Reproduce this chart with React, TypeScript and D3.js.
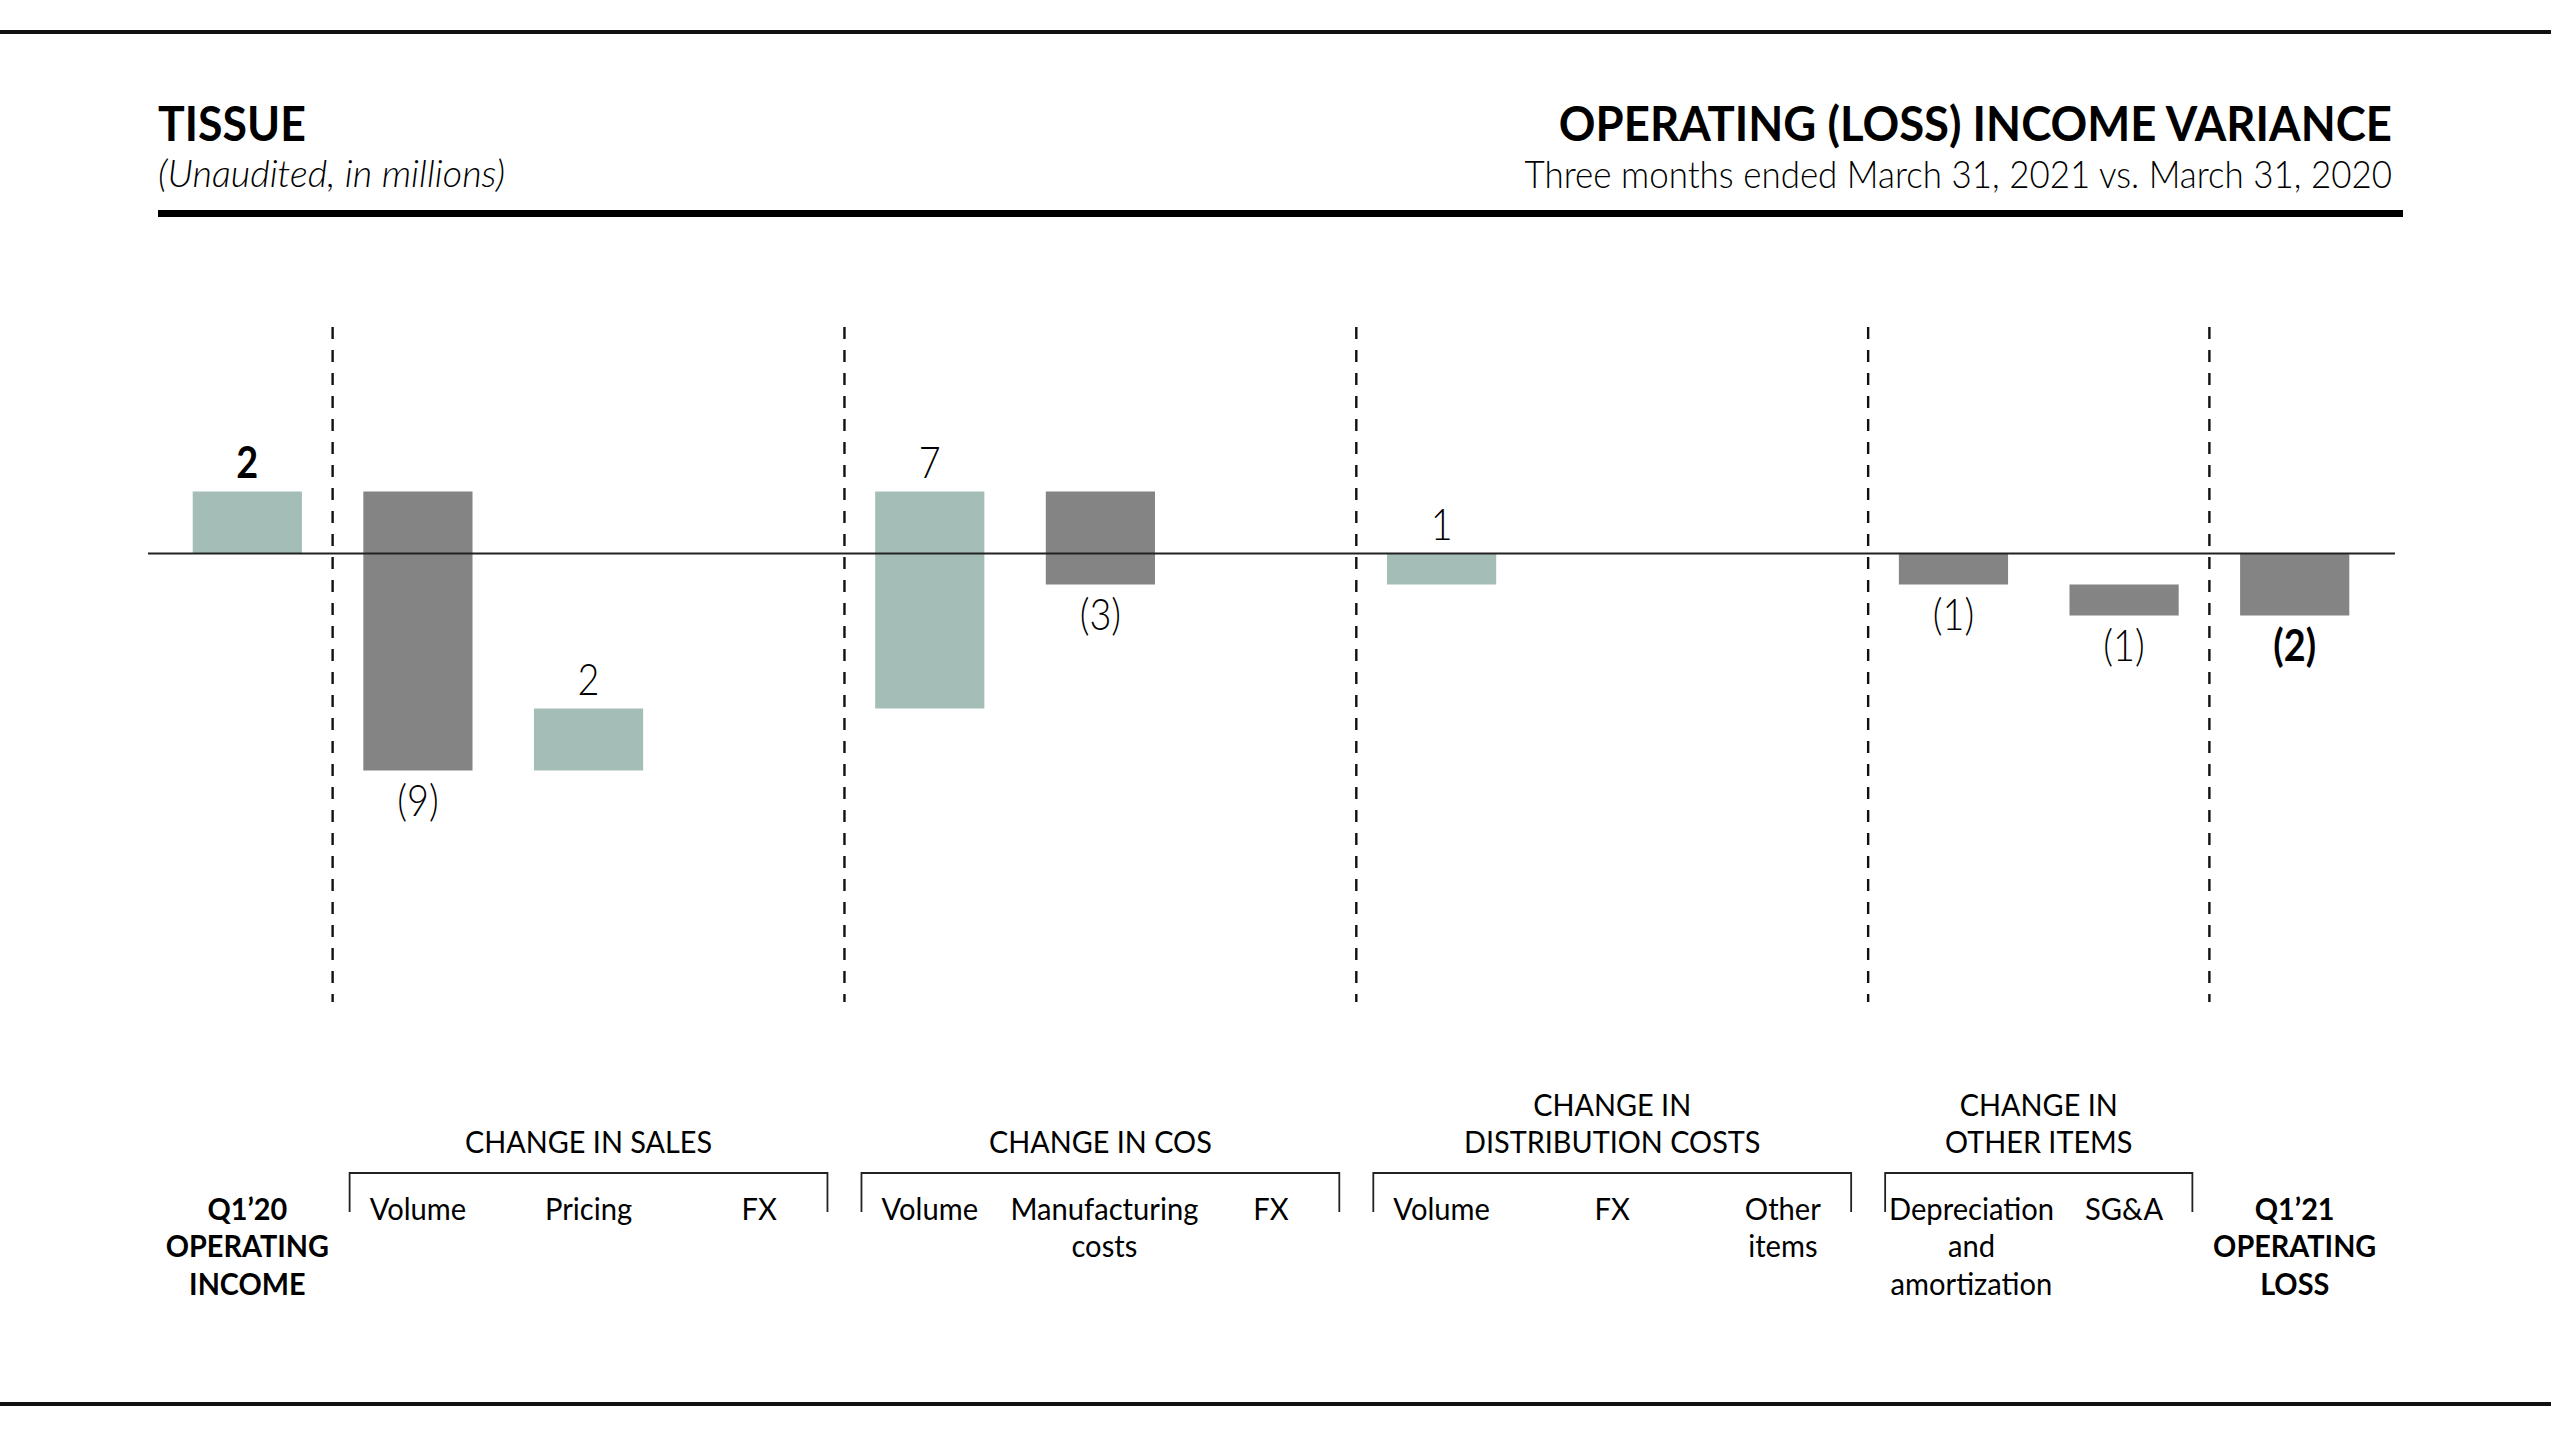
import React from "react";
import * as d3 from "d3";

// ---------- data ----------
const categories = [
  "Q1'20 OPERATING INCOME",
  "Sales Volume",
  "Pricing",
  "Sales FX",
  "COS Volume",
  "Manufacturing costs",
  "COS FX",
  "Distribution Volume",
  "Distribution FX",
  "Other items",
  "Depreciation and amortization",
  "SG&A",
  "Q1'21 OPERATING LOSS",
];
const categoryLines = [
  ["Q1’20", "OPERATING", "INCOME"],
  ["Volume"],
  ["Pricing"],
  ["FX"],
  ["Volume"],
  ["Manufacturing", "costs"],
  ["FX"],
  ["Volume"],
  ["FX"],
  ["Other", "items"],
  ["Depreciation", "and", "amortization"],
  ["SG&A"],
  ["Q1’21", "OPERATING", "LOSS"],
];
const values = [2, -9, 2, 0, 7, -3, 0, 1, 0, 0, -1, -1, -2];
const isTotal = [true, false, false, false, false, false, false, false, false, false, false, false, true];
const groupTitles = [["CHANGE IN SALES"], ["CHANGE IN COS"], ["CHANGE IN", "DISTRIBUTION COSTS"], ["CHANGE IN", "OTHER ITEMS"]];
const groupStart = [1, 4, 7, 10];
const groupEnd = [3, 6, 9, 11];
const dividerAfter = [0, 3, 6, 9, 11];

const title = "OPERATING (LOSS) INCOME VARIANCE";
const subtitle = "Three months ended March 31, 2021 vs. March 31, 2020";
const segment = "TISSUE";
const note = "(Unaudited, in millions)";

// ---------- styles ----------
const W = 2551;
const H = 1434;
const FONT = "Lato, 'Noto Sans', sans-serif";
const GREEN = "#a4beb7";
const GRAY = "#848484";

type TP = {
  x: number;
  y: number;
  sx?: number;
  size: number;
  weight?: number | string;
  italic?: boolean;
  anchor?: "start" | "middle" | "end";
  lines: string[];
  lh?: number;
};
function T({ x, y, sx = 1, size, weight = 400, italic = false, anchor = "start", lines, lh = 0 }: TP) {
  return (
    <text
      transform={`translate(${x},${y}) scale(${sx},1)`}
      fontSize={size}
      fontWeight={weight}
      fontStyle={italic ? "italic" : "normal"}
      textAnchor={anchor}
      fill="#000"
    >
      {lines.map((t, k) => (
        <tspan key={k} x={0} y={k * lh}>
          {t}
        </tspan>
      ))}
    </text>
  );
}

export default function App() {
  const x = d3
    .scaleBand<number>()
    .domain(d3.range(categories.length))
    .range([162, 2380])
    .paddingInner(0.36)
    .paddingOuter(0.18);
  const y = d3.scaleLinear().domain([-7, 2]).range([770.5, 491.5]);

  // waterfall
  let run = 0;
  const bars = values.map((v, i) => {
    let a: number, b: number;
    if (isTotal[i]) {
      a = 0;
      b = v;
      run = v;
    } else {
      a = run;
      b = run + v;
      run = b;
    }
    return { i, v, lo: Math.min(a, b), hi: Math.max(a, b) };
  });

  const mid = (i: number) => (x(i)! + x.bandwidth() + x(i + 1)!) / 2;
  const cx = (i: number) => x(i)! + x.bandwidth() / 2;
  const fmt = (v: number) => (v < 0 ? `(${Math.abs(v)})` : `${v}`);

  const labelDx: Record<number, number> = { 10: 18, 5: 4 };
  const LH = 37.5;

  return (
    <svg
      width={W}
      height={H}
      style={{ position: "absolute", left: 0, top: 0, background: "#fff" }}
      fontFamily={FONT}
    >
      <rect x={0} y={0} width={W} height={H} fill="#fff" />
      {/* rules */}
      <rect x={0} y={30} width={W} height={4} fill="#111" />
      <rect x={0} y={1402} width={W} height={4} fill="#111" />
      <rect x={158} y={210} width={2245} height={7} fill="#000" />

      {/* header */}
      <T x={158} y={141} size={47} weight={700} sx={0.95} lines={[segment]} />
      <T x={158} y={187} size={37} weight={300} italic sx={1.02} lines={[note]} />
      <T x={2392} y={141} size={47} weight={700} sx={0.968} anchor="end" lines={[title]} />
      <T x={2392} y={188} size={38} weight={300} sx={0.92} anchor="end" lines={[subtitle]} />

      {/* dividers */}
      {dividerAfter.map((d) => (
        <line
          key={"d" + d}
          x1={mid(d)}
          x2={mid(d)}
          y1={327}
          y2={1002}
          stroke="#111"
          strokeWidth={2.4}
          strokeDasharray="12,11"
        />
      ))}

      {/* bars */}
      {bars.map((b) =>
        b.v === 0 ? null : (
          <rect
            key={"b" + b.i}
            x={x(b.i)}
            width={x.bandwidth()}
            y={y(b.hi)}
            height={y(b.lo) - y(b.hi)}
            fill={b.v > 0 ? GREEN : GRAY}
          />
        )
      )}

      {/* zero line */}
      <line x1={148} x2={2395} y1={y(0)} y2={y(0)} stroke="#222" strokeWidth={2.2} />

      {/* value labels */}
      {bars.map((b) =>
        b.v === 0 ? null : (
          <T
            key={"v" + b.i}
            x={cx(b.i)}
            y={b.v > 0 ? y(b.hi) - 14 : y(b.lo) + 45}
            size={44}
            sx={0.86}
            weight={isTotal[b.i] ? 700 : 300}
            anchor="middle"
            lines={[fmt(b.v)]}
          />
        )
      )}

      {/* group headers and brackets */}
      {groupTitles.map((lines, g) => {
        const left = mid(groupStart[g] - 1) + 17;
        const right = mid(groupEnd[g]) - 17;
        const c = (left + right) / 2;
        return (
          <g key={"g" + g}>
            <T
              x={c}
              y={1153 - (lines.length - 1) * LH}
              size={31}
              sx={0.93}
              anchor="middle"
              lines={lines}
              lh={LH}
            />
            <path
              d={`M${left},1212V1173H${right}V1212`}
              fill="none"
              stroke="#222"
              strokeWidth={1.8}
            />
          </g>
        );
      })}

      {/* category labels */}
      {categoryLines.map((lines, i) => (
        <T
          key={"c" + i}
          x={cx(i) + (labelDx[i] || 0)}
          y={1220}
          size={31}
          sx={isTotal[i] ? 0.93 : 0.94}
          weight={isTotal[i] ? 700 : 400}
          anchor="middle"
          lines={lines}
          lh={LH}
        />
      ))}
    </svg>
  );
}
